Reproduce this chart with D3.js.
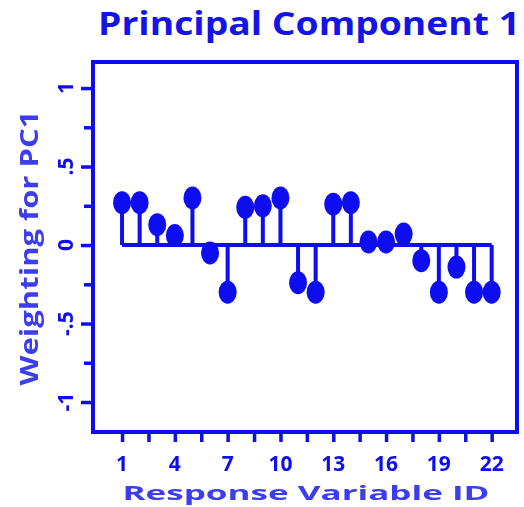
<!DOCTYPE html>
<html>
<head>
<meta charset="utf-8">
<script src="https://cdn.jsdelivr.net/npm/d3@7"></script>
<style>
  body { margin: 0; background: #fff; }
  text { font-family: "Open Sans", "DejaVu Sans", sans-serif; font-weight: bold; }
</style>
</head>
<body>
<div id="chart"></div>
<script>
// Stem plot of PC1 weightings per response variable

// ==========================================================
// Data
var variableIds = d3.range(1, 23);
var weightings = [0.27, 0.27, 0.13, 0.06, 0.30, -0.05, -0.30, 0.24, 0.25, 0.30, -0.24,
                  -0.30, 0.26, 0.27, 0.02, 0.02, 0.07, -0.10, -0.30, -0.14, -0.30, -0.30];
var xTickValues = [1, 4, 7, 10, 13, 16, 19, 22];
var yTickValues = [-1, -0.5, 0, 0.5, 1];
var yTickLabels = ["-1", "-.5", "0", ".5", "1"];

var blue = "#0a0af0";

// ==========================================================
// Sizes
var svgWidth = 524;
var svgHeight = 507;

var frame = { left: 93, right: 517, top: 62, bottom: 432 };

var svg = d3.select("#chart")
  .append("svg")
  .attr("width", svgWidth)
  .attr("height", svgHeight);

// slight blur, the source is a soft scan
svg.append("defs").append("filter")
  .attr("id", "soft")
  .append("feGaussianBlur")
  .attr("stdDeviation", 0.7);

var xScale = d3.scaleLinear()
  .domain([-0.65, 23.44])
  .range([frame.left, frame.right]);

var yScale = d3.scaleLinear()
  .domain([-1.191, 1.166])
  .range([frame.bottom, frame.top]);

var chartGroup = svg.append("g").attr("filter", "url(#soft)");

// frame
chartGroup.append("rect")
  .attr("x", frame.left)
  .attr("y", frame.top)
  .attr("width", frame.right - frame.left)
  .attr("height", frame.bottom - frame.top)
  .attr("fill", "none")
  .attr("stroke", blue)
  .attr("stroke-width", 4);

// left axis, major + minor ticks
var leftAxis = d3.axisLeft(yScale)
  .tickValues(yTickValues)
  .tickSize(12)
  .tickFormat("");
chartGroup.append("g")
  .attr("transform", `translate(${frame.left}, 0)`)
  .call(leftAxis)
  .call(g => g.select(".domain").remove())
  .call(g => g.selectAll("line").attr("stroke", blue).attr("stroke-width", 3.5));

var minorLeft = d3.axisLeft(yScale)
  .tickValues([-0.75, -0.25, 0.25, 0.75])
  .tickSize(9)
  .tickFormat("");
chartGroup.append("g")
  .attr("transform", `translate(${frame.left}, 0)`)
  .call(minorLeft)
  .call(g => g.select(".domain").remove())
  .call(g => g.selectAll("line").attr("stroke", blue).attr("stroke-width", 3.5));

// y tick labels, rotated
chartGroup.selectAll(".ylab")
  .data(yTickValues)
  .enter()
  .append("text")
  .attr("class", "ylab")
  .attr("transform", (d, i) => `translate(73, ${yScale(d)}) rotate(-90)`)
  .attr("text-anchor", "middle")
  .attr("fill", blue)
  .attr("font-size", 21)
  .text((d, i) => yTickLabels[i]);

// bottom axis, ticks every 1.5 units
var bottomAxis = d3.axisBottom(xScale)
  .tickValues(d3.range(1, 22.1, 1.5))
  .tickSize(10)
  .tickFormat("");
chartGroup.append("g")
  .attr("transform", `translate(0, ${frame.bottom})`)
  .call(bottomAxis)
  .call(g => g.select(".domain").remove())
  .call(g => g.selectAll("line").attr("stroke", blue).attr("stroke-width", 3.5));

chartGroup.selectAll(".xlab")
  .data(xTickValues)
  .enter()
  .append("text")
  .attr("class", "xlab")
  .attr("x", d => xScale(d))
  .attr("y", 471)
  .attr("text-anchor", "middle")
  .attr("fill", blue)
  .attr("font-size", 21)
  .text(d => d);

// baseline
chartGroup.append("line")
  .attr("x1", xScale(1))
  .attr("x2", xScale(22))
  .attr("y1", yScale(0))
  .attr("y2", yScale(0))
  .attr("stroke", blue)
  .attr("stroke-width", 4);

// stems
chartGroup.selectAll(".stem")
  .data(weightings)
  .enter()
  .append("line")
  .attr("class", "stem")
  .attr("x1", (d, i) => xScale(variableIds[i]))
  .attr("x2", (d, i) => xScale(variableIds[i]))
  .attr("y1", yScale(0))
  .attr("y2", d => yScale(d))
  .attr("stroke", blue)
  .attr("stroke-width", 4);

// markers
chartGroup.selectAll(".dot")
  .data(weightings)
  .enter()
  .append("ellipse")
  .attr("class", "dot")
  .attr("cx", (d, i) => xScale(variableIds[i]))
  .attr("cy", d => yScale(d))
  .attr("rx", 9)
  .attr("ry", 11.5)
  .attr("fill", blue);

// titles
svg.append("text")
  .attr("x", 98)
  .attr("y", 35)
  .attr("textLength", 422)
  .attr("lengthAdjust", "spacingAndGlyphs")
  .attr("fill", "#1414e6")
  .attr("font-size", 33)
  .text("Principal Component 1");

chartGroup.append("text")
  .attr("x", 306)
  .attr("y", 500)
  .attr("text-anchor", "middle")
  .attr("textLength", 367)
  .attr("lengthAdjust", "spacingAndGlyphs")
  .attr("fill", "#3c3cf0")
  .attr("font-size", 20)
  .text("Response Variable ID");

chartGroup.append("text")
  .attr("transform", "translate(38, 248) rotate(-90)")
  .attr("text-anchor", "middle")
  .attr("textLength", 275)
  .attr("lengthAdjust", "spacingAndGlyphs")
  .attr("fill", "#3c3cf0")
  .attr("font-size", 25)
  .text("Weighting for PC1");
</script>
</body>
</html>
